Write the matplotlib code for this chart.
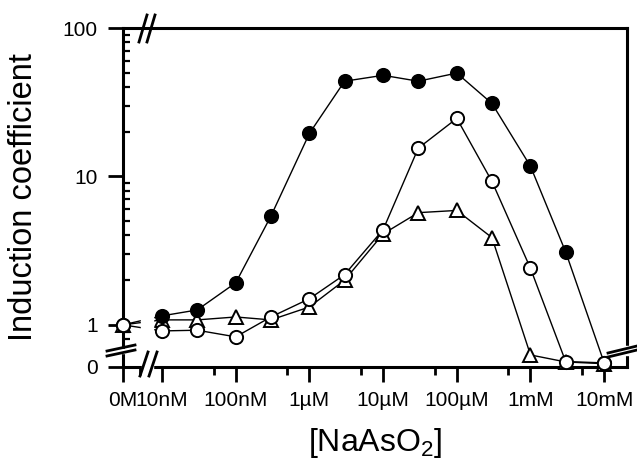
import numpy as np
import matplotlib
matplotlib.use("Agg")
import matplotlib.pyplot as plt
from matplotlib.patches import Rectangle
from matplotlib.lines import Line2D

plt.rcParams['font.family'] = ['Liberation Sans', 'DejaVu Sans']
plt.rcParams['mathtext.default'] = 'regular'

# concentrations of NaAsO2 (M), 0 = untreated control
conc = [0, 1e-8, 3e-8, 1e-7, 3e-7, 1e-6, 3e-6, 1e-5, 3e-5, 1e-4, 3e-4, 1e-3, 3e-3, 1e-2]
closed = [1, 1.15, 1.26, 1.92, 5.4, 19.5, 43.8, 48, 43.8, 49.7, 31, 11.7, 3.1, 0.15]
opened = [1, 0.91, 0.92, 0.83, 1.13, 1.5, 2.18, 4.38, 15.5, 24.6, 9.25, 2.4, 0.2, 0.15]
triang = [1, 1.08, 1.08, 1.13, 1.08, 1.32, 2.0, 4.1, 5.7, 5.9, 3.87, 0.44, 0.185, 0.12]

x_ticks = [0, 1e-8, 1e-7, 1e-6, 1e-5, 1e-4, 1e-3, 1e-2]
x_labels = ["0M", "10nM", "100nM", "1µM", "10µM", "100µM", "1mM", "10mM"]
x_minor = [5e-9, 5e-8, 5e-7, 5e-6, 5e-5, 5e-4, 5e-3]
y_ticks = [0, 1, 10, 100]
y_labels = ["0", "1", "10", "100"]
y_minor = [0.8, 0.9] + [k for k in range(2, 10)] + [10 * k for k in range(2, 10)]

# broken x axis: log scale, with 0 placed half a decade left of 10nM
ZERO_X = -8.53
def fx(x):
    x = np.asarray(x, float)
    return np.where(x > 0, np.log10(np.where(x > 0, x, 1)), ZERO_X)
def fx_inv(p):
    return 10 ** np.asarray(p, float)

# broken y axis: log scale above 0.7, compressed linear segment down to 0
BRK = 0.7
Y0 = -0.284
def fy(v):
    v = np.asarray(v, float)
    lo = Y0 + v * (np.log10(BRK) - Y0) / BRK
    hi = np.log10(np.maximum(v, BRK))
    return np.where(v >= BRK, hi, lo)
def fy_inv(p):
    p = np.asarray(p, float)
    return np.where(p >= np.log10(BRK), 10 ** p, (p - Y0) * BRK / (np.log10(BRK) - Y0))

fig = plt.figure(figsize=(6.37, 4.63), dpi=100)
ax = fig.add_axes([123 / 637, 96 / 463, 504 / 637, 339 / 463])
ax.set_xscale('function', functions=(fx, fx_inv))
ax.set_yscale('function', functions=(fy, fy_inv))

ax.plot(conc, triang, marker='^', ms=10.5, mfc='white', mec='black', mew=1.4,
        color='black', lw=1, zorder=3, clip_on=False)
ax.plot(conc, closed, marker='o', ms=9.5, mfc='black', mec='black', mew=1.4,
        color='black', lw=1, zorder=4, clip_on=False)
ax.plot(conc, opened, marker='o', ms=9.5, mfc='white', mec='black', mew=1.4,
        color='black', lw=1, zorder=5, clip_on=False)

ax.set_xlim(0, 0.0204)
ax.set_ylim(0, 100)

ax.set_xticks(x_ticks)
ax.set_xticklabels(x_labels)
ax.set_xticks(x_minor, minor=True)
ax.set_yticks(y_ticks)
ax.set_yticklabels(y_labels)
ax.set_yticks(y_minor, minor=True)
ax.yaxis.set_minor_formatter(plt.NullFormatter())
ax.xaxis.set_minor_formatter(plt.NullFormatter())

ax.tick_params(axis='both', which='major', labelsize=15, width=2, length=11, direction='out')
ax.tick_params(axis='x', which='major', pad=6)
ax.tick_params(axis='y', which='major', pad=7)
ax.tick_params(axis='x', which='minor', width=2, length=6, direction='out')
ax.tick_params(axis='y', which='minor', width=1.6, length=5, direction='in')

for s in ax.spines.values():
    s.set_linewidth(2.2)

ax.set_xlabel("[NaAsO$_2$]", fontsize=23, labelpad=12)
ax.set_ylabel("Induction coefficient", fontsize=23.5, labelpad=17)

# axis break decorations (pixel positions converted to axes fractions)
def px(x, y):
    return (x - 123) / 504, (367 - y) / 339

def seg(p0, p1, lw=2):
    (x0, y0), (x1, y1) = px(*p0), px(*p1)
    ax.add_line(Line2D([x0, x1], [y0, y1], transform=ax.transAxes, color='black',
                       lw=lw, clip_on=False, zorder=10))

def gap(p0, p1):
    (x0, y0), (x1, y1) = px(*p0), px(*p1)
    ax.add_patch(Rectangle((x0, y0), x1 - x0, y1 - y0, transform=ax.transAxes,
                           color='white', clip_on=False, zorder=9))

# gap in the lines leaving the control point
gap((141, 340), (153, 305))
# top spine
seg((139, 42), (147, 15))
seg((147, 42), (155, 15))
# bottom spine
gap((142, 369), (153, 365))
seg((140, 376), (148, 352))
seg((149, 376), (157, 352))
# left spine
gap((119, 353), (127, 349))
seg((107, 351), (135, 345))
seg((107, 356), (135, 350))
# right spine
gap((623, 355), (631, 346))
seg((608, 353), (637, 346))
seg((608, 357), (637, 350))

fig.savefig("out.png", dpi=100)
